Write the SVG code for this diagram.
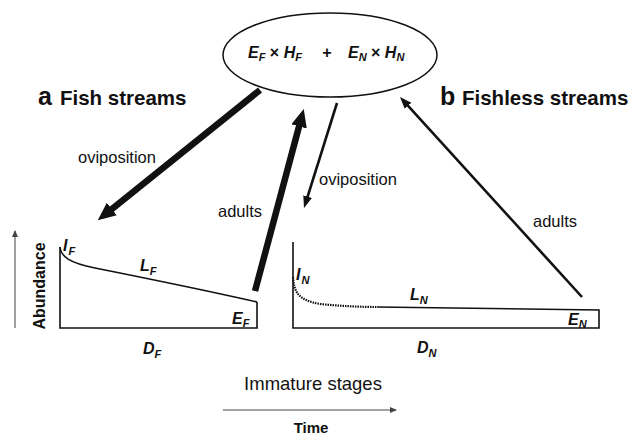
<svg xmlns="http://www.w3.org/2000/svg" width="632" height="435" viewBox="0 0 632 435">
<defs>
<style>
text{font-family:"Liberation Sans",Arial,sans-serif;fill:#111}
.lbl{font-size:16.5px}
.var{font-size:16px;font-weight:bold;font-style:italic}
.sub{font-size:11px}
.hd{font-size:20.5px;font-weight:bold}
.hdl{font-size:25px;font-weight:bold}
.thick{stroke:#111;stroke-width:6.5;fill:none}
.thin{stroke:#111;stroke-width:2.6;fill:none}
.ax{stroke:#111;stroke-width:1.6;fill:none}
.gray{stroke:#444;stroke-width:1;fill:none}
</style>
<marker id="hBig" markerUnits="userSpaceOnUse" markerWidth="20" markerHeight="18" refX="9" refY="8" orient="auto">
<path d="M0,0 L18,8 L0,16 z" fill="#111"/>
</marker>
<marker id="hSmall" markerUnits="userSpaceOnUse" markerWidth="14" markerHeight="10" refX="6" refY="4.5" orient="auto">
<path d="M0,0 L12,4.5 L0,9 z" fill="#111"/>
</marker>
<marker id="hTiny" markerUnits="userSpaceOnUse" markerWidth="8" markerHeight="6" refX="6" refY="3" orient="auto">
<path d="M0,0 L7,3 L0,6 z" fill="#444"/>
</marker>
</defs>

<g id="pool">
<ellipse cx="330" cy="55" rx="107" ry="42" fill="none" stroke="#111" stroke-width="1.5"/>
<text class="var" y="58"><tspan x="248">E</tspan><tspan class="sub" dy="3">F</tspan><tspan dy="-3" font-style="normal"> × </tspan><tspan>H</tspan><tspan class="sub" dy="3">F</tspan></text>
<text class="var" x="322" y="58" font-weight="normal" font-style="normal">+</text>
<text class="var" y="58"><tspan x="348">E</tspan><tspan class="sub" dy="3">N</tspan><tspan dy="-3" font-style="normal"> × </tspan><tspan>H</tspan><tspan class="sub" dy="3">N</tspan></text>
</g>

<g id="headings">
<text x="38" y="105"><tspan class="hdl">a</tspan><tspan class="hd" x="60">Fish streams</tspan></text>
<text x="440" y="105"><tspan class="hdl">b</tspan><tspan class="hd" x="462">Fishless streams</tspan></text>
</g>

<g id="chartF">
<path class="ax" d="M60,247 V328 H257 V302"/>
<path class="ax" d="M60,247 C61,257 70,263 95,268 C140,277 200,289 257,302"/>
<text class="var" y="251"><tspan x="63">I</tspan><tspan class="sub" dx="1" dy="4">F</tspan></text>
<text class="var" y="271"><tspan x="140">L</tspan><tspan class="sub" dy="4">F</tspan></text>
<text class="var" y="324"><tspan x="232">E</tspan><tspan class="sub" dy="3">F</tspan></text>
<text class="var" y="354"><tspan x="143">D</tspan><tspan class="sub" dy="4">F</tspan></text>
</g>

<g id="chartN">
<path class="ax" d="M293,242 V328 H599 V310 L377,307"/>
<path d="M293,277 C294,292 298,300 320,304 C340,306 360,307 377,307" fill="none" stroke="#111" stroke-width="2.2" stroke-dasharray="1.5,1"/>
<text class="var" y="280"><tspan x="296">I</tspan><tspan class="sub" dx="1" dy="4">N</tspan></text>
<text class="var" y="300"><tspan x="410">L</tspan><tspan class="sub" dy="4">N</tspan></text>
<text class="var" y="325"><tspan x="568">E</tspan><tspan class="sub" dy="3">N</tspan></text>
<text class="var" y="353"><tspan x="417">D</tspan><tspan class="sub" dy="4">N</tspan></text>
</g>

<g id="axes">
<line class="gray" x1="15" y1="328" x2="15" y2="231" marker-end="url(#hTiny)"/>
<text x="45" y="286" transform="rotate(-90 45 286)" text-anchor="middle" font-size="16" font-weight="bold">Abundance</text>
<text x="313" y="390" text-anchor="middle" font-size="18.5">Immature stages</text>
<line class="gray" x1="223" y1="410" x2="396" y2="410" marker-end="url(#hTiny)"/>
<text x="311" y="433" text-anchor="middle" font-size="15" font-weight="bold">Time</text>
</g>

<g id="connectors">
<line class="thick" x1="260" y1="90" x2="104.8" y2="214.7" marker-end="url(#hBig)"/>
<line class="thick" x1="255" y1="291" x2="301.4" y2="117.7" marker-end="url(#hBig)"/>
<line class="thin" x1="337" y1="103" x2="305.8" y2="202.3" marker-end="url(#hSmall)"/>
<line class="thin" x1="582" y1="297" x2="404" y2="101.4" stroke-width="3" marker-end="url(#hSmall)"/>
<text class="lbl" x="78" y="163">oviposition</text>
<text class="lbl" x="218" y="217">adults</text>
<text class="lbl" x="319" y="185">oviposition</text>
<text class="lbl" x="533" y="227">adults</text>
</g>
</svg>
